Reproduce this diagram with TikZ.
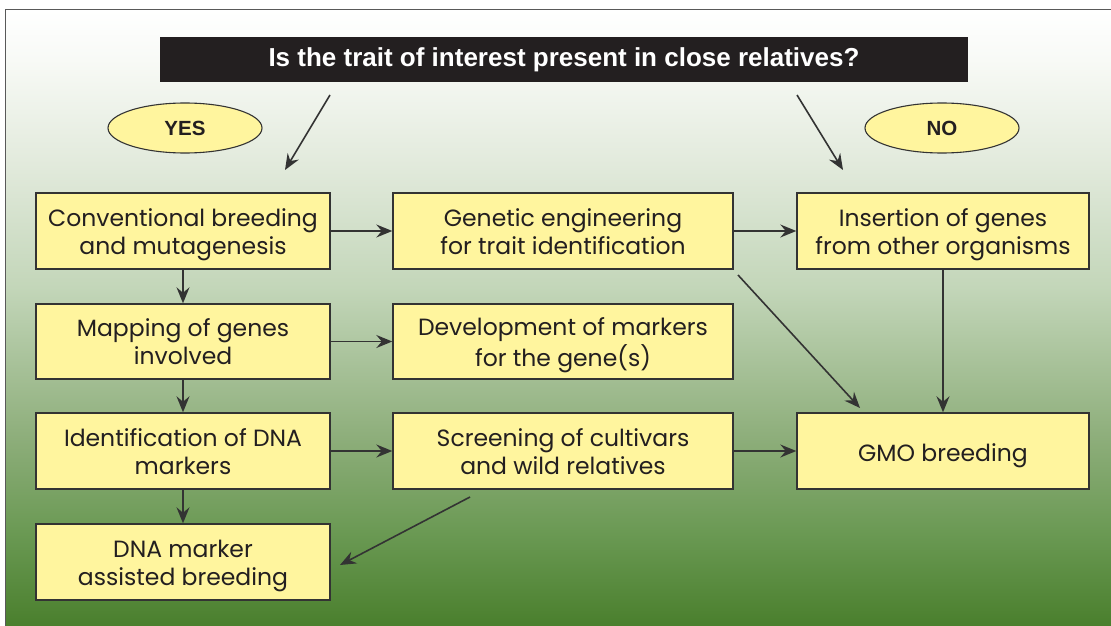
\documentclass[tikz,border=0pt]{standalone}
\usepackage{fontspec}
\setmainfont{Poppins}
\newfontfamily\qfont{Liberation Sans}
\usetikzlibrary{arrows.meta,shapes.geometric}
\definecolor{boxfill}{HTML}{FFF59E}
\definecolor{boxline}{HTML}{333333}
\definecolor{qblack}{HTML}{231F20}
\definecolor{bgA}{HTML}{FFFFFF}
\definecolor{bgB}{HTML}{F8FAF6}
\definecolor{bgC}{HTML}{E2EADC}
\definecolor{bgD}{HTML}{C3D6B9}
\definecolor{bgE}{HTML}{8CAD79}
\definecolor{bgF}{HTML}{6A9953}
\definecolor{bgG}{HTML}{4A7F2D}
\pgfdeclareverticalshading{bgshade}{100bp}{color(0bp)=(bgG); color(25bp)=(bgG); color(32.5bp)=(bgF); color(40bp)=(bgE); color(52.5bp)=(bgD); color(62.5bp)=(bgC); color(71bp)=(bgB); color(75bp)=(bgA); color(100bp)=(bgA)}
\newcommand{\twoline}[2]{\raisebox{-10pt}[0pt][0pt]{\begin{tabular}{@{}c@{}}#1\\#2\end{tabular}}}
\newcommand{\oneline}[1]{\raisebox{-10pt}[0pt][0pt]{#1}}
\tikzset{
  stepbox/.style={draw=boxline, fill=boxfill, line width=1.4pt, inner sep=0pt,
    font=\fontsize{23.5}{28}\selectfont, text=qblack},
  ans/.style={draw=boxline, fill=boxfill, line width=1.1pt, ellipse, minimum width=154pt, minimum height=50pt,
    inner sep=0pt, font=\qfont\bfseries\fontsize{20.5}{22}\selectfont, text=qblack},
  conn/.style={draw=boxline, line width=1.6pt, -{Stealth[length=16pt,width=13pt,inset=5.5pt]}}
}
\begin{document}
\begin{tikzpicture}[x=1pt,y=-1pt]
\useasboundingbox (0,0) rectangle (1111,626);
\fill[shading=bgshade] (5,10) rectangle (1111,626);
\draw[color=black!65, line width=1pt] (5,626) -- (5,10) -- (1111,10);

\node[fill=qblack, minimum width=808pt, minimum height=45pt, inner sep=0pt,
  text=white, font=\qfont\bfseries\fontsize{26}{28}\selectfont] (q) at (564,59.5)
  {Is the trait of interest present in close relatives?};

\node[ans] (yes) at (185,128) {YES};
\node[ans] (no) at (942,128) {NO};

\node[stepbox, minimum width=294pt, minimum height=76pt] (conv) at (183,231) {\twoline{Conventional breeding}{and mutagenesis}};
\node[stepbox, minimum width=294pt, minimum height=75pt] (map) at (183,341.5) {\twoline{Mapping of genes}{involved}};
\node[stepbox, minimum width=294pt, minimum height=76pt] (ident) at (183,451) {\twoline{Identification of DNA}{markers}};
\node[stepbox, minimum width=294pt, minimum height=76pt] (mab) at (183,562) {\twoline{DNA marker}{assisted breeding}};

\node[stepbox, minimum width=340pt, minimum height=76pt] (gen) at (563,231) {\twoline{Genetic engineering}{for trait identification}};
\node[stepbox, minimum width=340pt, minimum height=75pt] (dev) at (563,341.5) {\twoline{Development of markers}{for the gene(s)}};
\node[stepbox, minimum width=340pt, minimum height=76pt] (scr) at (563,451) {\twoline{Screening of cultivars}{and wild relatives}};

\node[stepbox, minimum width=292pt, minimum height=76pt] (ins) at (943,231) {\twoline{Insertion of genes}{from other organisms}};
\node[stepbox, minimum width=292pt, minimum height=76pt] (gmo) at (943,451) {\oneline{GMO breeding}};

\coordinate (qy) at (330,95);
\coordinate (qyend) at (285,170);
\coordinate (qn) at (797,95);
\coordinate (qnend) at (843,170);
\coordinate (gens) at (738,275);
\coordinate (gmoin) at (860,408);
\coordinate (scrs) at (470,497);
\coordinate (mabin) at (340,565);

\draw[conn] (qy) -- (qyend);
\draw[conn] (qn) -- (qnend);
\draw[conn] (conv) -- (gen);
\draw[conn] (gen) -- (ins);
\draw[conn] (map) -- (dev);
\draw[conn] (ident) -- (scr);
\draw[conn] (scr) -- (gmo);
\draw[conn] (conv) -- (map);
\draw[conn] (map) -- (ident);
\draw[conn] (ident) -- (mab);
\draw[conn] (ins) -- (gmo);
\draw[conn] (gens) -- (gmoin);
\draw[conn] (scrs) -- (mabin);
\end{tikzpicture}
\end{document}
